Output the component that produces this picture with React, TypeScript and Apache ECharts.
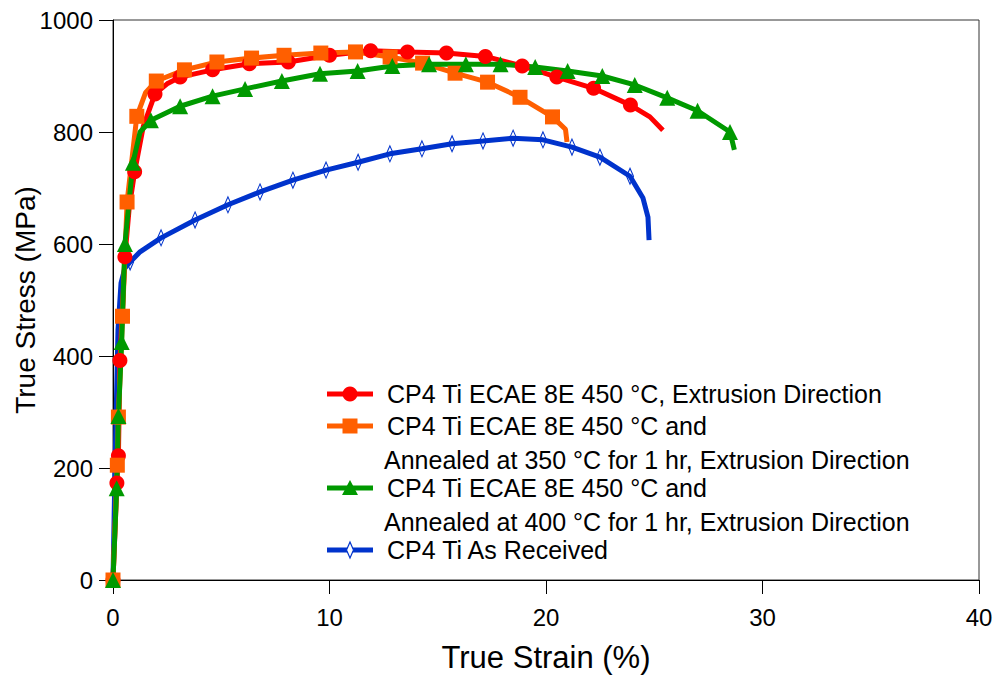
import React, { useEffect, useRef } from "react";
import * as echarts from "echarts";

// [strain %, stress MPa, marker shown (1) or not (0)]
const redData: number[][] = [
  [0, 0, 1], [0.18, 173, 1], [0.25, 222, 1], [0.32, 392, 1], [0.55, 577, 1],
  [0.75, 665, 0], [1.0, 729, 1], [1.4, 810, 0], [1.94, 868, 1], [2.5, 886, 0],
  [3.1, 898, 1], [4.6, 911, 1], [6.3, 922, 1], [8.1, 925, 1], [10.0, 937, 1],
  [11.9, 945, 1], [13.6, 943, 1], [15.4, 941, 1], [17.2, 935, 1], [18.9, 918, 1],
  [20.5, 898, 1], [22.2, 878, 1], [23.9, 848, 1], [24.8, 827, 0], [25.4, 803, 0],
];
const orangeData: number[][] = [
  [0, 0, 1], [0.2, 205, 1], [0.25, 291, 1], [0.44, 471, 1], [0.65, 675, 1],
  [1.1, 828, 1], [1.5, 870, 0], [2.0, 891, 1], [3.3, 911, 1], [4.8, 925, 1],
  [6.4, 932, 1], [7.9, 937, 1], [9.6, 941, 1], [11.2, 943, 1], [12.8, 934, 1],
  [14.3, 923, 1], [15.8, 905, 1], [17.3, 889, 1], [18.8, 862, 1], [20.3, 827, 1],
  [20.9, 805, 0], [20.97, 782, 0],
];
const greenData: number[][] = [
  [0, 0, 1], [0.17, 164, 1], [0.25, 293, 1], [0.4, 425, 1], [0.55, 600, 1],
  [0.92, 745, 1], [1.25, 800, 0], [1.75, 821, 1], [3.1, 846, 1], [4.6, 864, 1],
  [6.1, 877, 1], [7.8, 891, 1], [9.56, 904, 1], [11.3, 909, 1], [12.9, 918, 1],
  [14.6, 921, 1], [16.3, 921, 1], [17.9, 921, 1], [19.5, 916, 1], [21.0, 909, 1],
  [22.6, 900, 1], [24.1, 884, 1], [25.6, 861, 1], [27.0, 838, 1], [28.5, 800, 1],
  [28.7, 768, 0],
];
const blueData: number[][] = [
  [0, 0, 0], [0.09, 196, 0], [0.23, 446, 0], [0.37, 530, 0], [0.55, 557, 0],
  [0.79, 568, 1], [1.25, 586, 0], [2.22, 611, 1], [3.79, 643, 1], [5.31, 670, 1],
  [6.79, 693, 1], [8.31, 714, 1], [9.84, 732, 1], [11.32, 746, 1], [12.79, 761, 1],
  [14.27, 770, 1], [15.66, 779, 1], [17.09, 784, 1], [18.48, 789, 1], [19.86, 786, 1],
  [21.2, 773, 1], [22.49, 755, 1], [23.88, 721, 1], [24.48, 682, 0], [24.71, 648, 0],
  [24.76, 607, 0],
];

const legendLabels: string[][] = [
  ["CP4 Ti ECAE 8E 450 °C, Extrusion Direction"],
  ["CP4 Ti ECAE 8E 450 °C and", "Annealed at 350 °C for 1 hr, Extrusion Direction"],
  ["CP4 Ti ECAE 8E 450 °C and", "Annealed at 400 °C for 1 hr, Extrusion Direction"],
  ["CP4 Ti As Received"],
];

const RED = "#ff0000";
const ORANGE = "#ff5f00";
const GREEN = "#009900";
const BLUE = "#0033cc";
const FONT = "'Liberation Sans', Arial, Helvetica, sans-serif";

export default function App() {
  const ref = useRef<HTMLDivElement>(null);
  useEffect(() => {
    if (!ref.current) return;
    const chart = echarts.init(ref.current, null, { renderer: "svg" });
    const sizeFn = (s: any) => (v: number[]) => (v[2] ? s : 0);

    const mk = (name: string, data: number[][], color: string, symbol: string, size: any, itemStyle: any) => ({
      name,
      type: "line",
      data,
      symbol,
      symbolSize: sizeFn(size),
      showAllSymbol: true,
      lineStyle: { color, width: 5 },
      itemStyle,
      emphasis: { disabled: true },
    });

    // legend as graphics
    const lx1 = 327, lx2 = 373, mx = 350, tx = 387;
    const rows = [394, 426, 488, 550];
    const colors = [RED, ORANGE, GREEN, BLUE];
    const g: any[] = [];
    rows.forEach((y, i) => {
      g.push({ type: "line", shape: { x1: lx1, y1: y, x2: lx2, y2: y }, style: { stroke: colors[i], lineWidth: 5 } });
      if (i === 0) g.push({ type: "circle", shape: { cx: mx, cy: y, r: 7.5 }, style: { fill: RED } });
      if (i === 1) g.push({ type: "rect", shape: { x: mx - 7.5, y: y - 7.5, width: 15, height: 15 }, style: { fill: ORANGE } });
      if (i === 2) g.push({ type: "polygon", shape: { points: [[mx, y - 8], [mx - 8, y + 7], [mx + 8, y + 7]] }, style: { fill: GREEN } });
      if (i === 3) g.push({ type: "polygon", shape: { points: [[mx, y - 8], [mx - 3.5, y], [mx, y + 8], [mx + 3.5, y]] }, style: { fill: "#fff", stroke: BLUE, lineWidth: 1.2 } });
      legendLabels[i].forEach((t, j) => {
        g.push({
          type: "text",
          x: j === 0 ? tx : tx - 3,
          y: y + j * 34,
          style: { text: t, fill: "#000", font: `25px ${FONT}`, verticalAlign: "middle" },
        });
      });
    });

    chart.setOption({
      animation: false,
      textStyle: { fontFamily: FONT },
      grid: {
        left: 113, right: 19, top: 20, bottom: 99, containLabel: false, outerBoundsMode: "none",
        show: true, borderColor: "#333", borderWidth: 1,
      },
      xAxis: {
        type: "value", min: 0, max: 40, interval: 10,
        axisLine: { onZero: false, lineStyle: { color: "#000", width: 1 } },
        axisTick: { length: 14, lineStyle: { color: "#000" } },
        splitLine: { show: false },
        axisLabel: { fontSize: 24, color: "#000", margin: 25, fontFamily: FONT },
        name: "True Strain (%)", nameLocation: "middle", nameGap: 62, nameMoveOverlap: false,
        nameTextStyle: { fontSize: 31, color: "#000", fontFamily: FONT },
      },
      yAxis: {
        type: "value", min: 0, max: 1000, interval: 200,
        axisLine: { show: true, onZero: false, lineStyle: { color: "#000", width: 1 } },
        axisTick: { show: true, length: 14, lineStyle: { color: "#000" } },
        splitLine: { show: false },
        axisLabel: { fontSize: 24, color: "#000", margin: 20, fontFamily: FONT, formatter: (v: number) => String(v) },
        name: "True Stress (MPa)", nameLocation: "middle", nameGap: 74, nameMoveOverlap: false,
        nameTextStyle: { fontSize: 28, color: "#000", fontFamily: FONT },
      },
      series: [
        mk("CP4 Ti As Received", blueData, BLUE, "diamond", [7, 16], { color: "rgba(255,255,255,0)", borderColor: BLUE, borderWidth: 1.2 }),
        mk("ECAE 450", redData, RED, "circle", 15, { color: RED }),
        mk("ECAE 450 + 350", orangeData, ORANGE, "rect", 15, { color: ORANGE }),
        mk("ECAE 450 + 400", greenData, GREEN, "triangle", 16, { color: GREEN }),
      ],
      graphic: g,
    });
    return () => chart.dispose();
  }, []);
  return <div ref={ref} style={{ width: 998, height: 679, position: "absolute", left: 0, top: 0, background: "#fff" }} />;
}
